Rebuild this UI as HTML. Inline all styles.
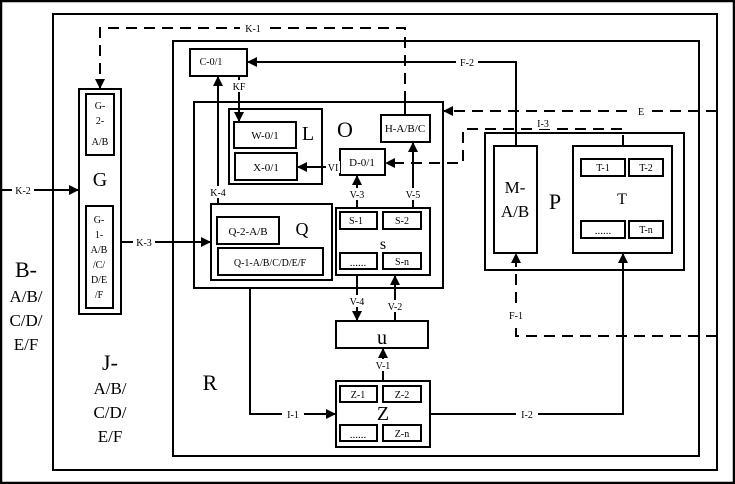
<!DOCTYPE html>
<html><head><meta charset="utf-8"><style>
html,body{margin:0;padding:0;background:#fff}
svg{display:block}
text{font-family:"Liberation Serif","Noto Serif CJK SC",serif;fill:#000}
.s{font-size:10px;fill:#555}
.m{font-size:11px}
</style></head><body>
<svg width="735" height="484" viewBox="0 0 735 484" xmlns="http://www.w3.org/2000/svg">
<defs>
<marker id="a" markerWidth="10" markerHeight="10" refX="9" refY="5" orient="auto" markerUnits="userSpaceOnUse"><path d="M0,0 L10,5 L0,10 z" fill="#000"/></marker>
</defs>
<g fill="none" stroke="#000" stroke-width="2">
<rect x="1" y="1" width="733" height="482" stroke-width="2.5"/>
<rect x="53" y="14" width="664" height="456"/>
<rect x="173" y="41" width="526" height="415"/>
<rect x="194" y="102" width="249" height="186"/>
<rect x="190" y="49" width="57" height="27"/>
<rect x="229" y="109" width="93" height="75"/>
<rect x="234" y="122" width="62" height="26"/>
<rect x="235" y="153" width="62" height="27"/>
<rect x="340" y="149" width="45" height="26"/>
<rect x="381" y="115" width="49" height="27"/>
<rect x="336" y="208" width="94" height="67"/>
<rect x="340" y="212" width="37" height="17"/>
<rect x="383" y="212" width="38" height="17"/>
<rect x="340" y="253" width="37" height="16"/>
<rect x="383" y="253" width="38" height="16"/>
<rect x="211" y="204" width="121" height="76"/>
<rect x="217" y="217" width="62" height="27"/>
<rect x="218" y="248" width="105" height="27"/>
<rect x="336" y="321" width="92" height="27"/>
<rect x="336" y="381" width="94" height="66"/>
<rect x="340" y="386" width="37" height="16"/>
<rect x="383" y="386" width="38" height="16"/>
<rect x="340" y="425" width="37" height="16"/>
<rect x="383" y="425" width="38" height="16"/>
<rect x="485" y="133" width="199" height="137"/>
<rect x="494" y="146" width="43" height="107"/>
<rect x="573" y="146" width="99" height="107"/>
<rect x="581" y="159" width="44" height="17"/>
<rect x="629" y="159" width="34" height="17"/>
<rect x="581" y="221" width="44" height="17"/>
<rect x="629" y="221" width="34" height="17"/>
<rect x="79" y="89" width="42" height="225"/>
<rect x="86" y="94" width="28" height="61"/>
<rect x="86" y="206" width="27" height="102"/>
</g>
<g fill="none" stroke="#000" stroke-width="2">
<!-- solid connectors -->
<path d="M0,190 H78" marker-end="url(#a)"/>
<path d="M121,242 H210" marker-end="url(#a)"/>
<path d="M218,204 V77" marker-end="url(#a)"/>
<path d="M239,76 V121" marker-end="url(#a)"/>
<path d="M340,167 H298" marker-end="url(#a)"/>
<path d="M357,208 V176" marker-end="url(#a)"/>
<path d="M413,208 V143" marker-end="url(#a)"/>
<path d="M357,275 V320" marker-end="url(#a)"/>
<path d="M395,321 V276" marker-end="url(#a)"/>
<path d="M383,381 V349" marker-end="url(#a)"/>
<path d="M250,288 V414 H335" marker-end="url(#a)"/>
<path d="M430,414 H623 V254" marker-end="url(#a)"/>
<path d="M516,146 V62 H248" marker-end="url(#a)"/>
<path d="M405,102 V115"/>
</g>
<g fill="none" stroke="#000" stroke-width="2" stroke-dasharray="11,7">
<path d="M405,102 V28 H100 V88" marker-end="url(#a)"/>
<path d="M717,111 H444" marker-end="url(#a)"/>
<path d="M623,146 V129 H463 V163 H386" marker-end="url(#a)"/>
<path d="M717,336 H516 V254" marker-end="url(#a)"/>
</g>
<!-- label backgrounds -->
<g fill="#fff">
<rect x="240" y="22" width="26" height="12"/>
<rect x="456" y="56" width="22" height="12"/>
<rect x="532" y="117" width="22" height="12"/>
<rect x="634" y="105" width="14" height="12"/>
<rect x="12" y="184" width="22" height="12"/>
<rect x="133" y="236" width="22" height="12"/>
<rect x="231" y="80" width="16" height="12"/>
<rect x="208" y="186" width="20" height="12"/>
<rect x="326" y="161" width="14" height="12"/>
<rect x="346" y="188" width="22" height="12"/>
<rect x="402" y="188" width="22" height="12"/>
<rect x="346" y="295" width="22" height="12"/>
<rect x="384" y="300" width="22" height="12"/>
<rect x="372" y="359" width="22" height="12"/>
<rect x="282" y="408" width="22" height="12"/>
<rect x="516" y="408" width="22" height="12"/>
<rect x="506" y="309" width="20" height="12"/>
</g>
<g class="s" text-anchor="middle">
<text x="253" y="32">K-1</text>
<text x="467" y="66">F-2</text>
<text x="543" y="127">I-3</text>
<text x="641" y="115">E</text>
<text x="23" y="194">K-2</text>
<text x="144" y="246">K-3</text>
<text x="239" y="90">KF</text>
<text x="218" y="196">K-4</text>
<text x="333" y="171">VI</text>
<text x="357" y="198">V-3</text>
<text x="413" y="198">V-5</text>
<text x="357" y="305">V-4</text>
<text x="395" y="310">V-2</text>
<text x="383" y="369">V-1</text>
<text x="293" y="418">I-1</text>
<text x="527" y="418">I-2</text>
<text x="516" y="319">F-1</text>
<text x="211" y="65">C-0/1</text>
<text x="356" y="216" transform="translate(0,8)" style="font-size:10px">S-1</text>
<text x="402" y="224">S-2</text>
<text x="402" y="265">S-n</text>
<text x="358" y="398">Z-1</text>
<text x="402" y="398">Z-2</text>
<text x="402" y="437">Z-n</text>
<text x="603" y="171">T-1</text>
<text x="646" y="171">T-2</text>
<text x="646" y="233">T-n</text>
</g>
<g class="m" text-anchor="middle">
<text x="265" y="139">W-0/1</text>
<text x="266" y="171">X-0/1</text>
<text x="362" y="166">D-0/1</text>
<text x="405" y="132">H-A/B/C</text>
<text x="248" y="235">Q-2-A/B</text>
<text x="270" y="266" style="font-size:10px">Q-1-A/B/C/D/E/F</text>
<text x="358" y="266">......</text>
<text x="358" y="438">......</text>
<text x="603" y="234">......</text>
<text x="100" y="109" style="font-size:10px">G-</text>
<text x="100" y="124" style="font-size:10px">2-</text>
<text x="100" y="145" style="font-size:10px">A/B</text>
<text x="99" y="223" style="font-size:10px">G-</text>
<text x="99" y="238" style="font-size:10px">1-</text>
<text x="99" y="253" style="font-size:10px">A/B</text>
<text x="99" y="268" style="font-size:10px">/C/</text>
<text x="99" y="283" style="font-size:10px">D/E</text>
<text x="99" y="298" style="font-size:10px">/F</text>
</g>
<g text-anchor="middle">
<text x="308" y="140" style="font-size:20px">L</text>
<text x="345" y="137" style="font-size:22px">O</text>
<text x="302" y="235" style="font-size:18px">Q</text>
<text x="383" y="249" style="font-size:16px">s</text>
<text x="382" y="344" style="font-size:20px">u</text>
<text x="383" y="420" style="font-size:20px">Z</text>
<text x="622" y="204" style="font-size:16px">T</text>
<text x="555" y="209" style="font-size:22px">P</text>
<text x="515" y="193" style="font-size:17px">M-</text>
<text x="515" y="217" style="font-size:17px">A/B</text>
<text x="100" y="186" style="font-size:20px">G</text>
<text x="210" y="390" style="font-size:22px">R</text>
<text x="26" y="277" style="font-size:22px">B-</text>
<text x="26" y="302" style="font-size:17px">A/B/</text>
<text x="26" y="326" style="font-size:17px">C/D/</text>
<text x="26" y="350" style="font-size:17px">E/F</text>
<text x="110" y="370" style="font-size:22px">J-</text>
<text x="110" y="394" style="font-size:17px">A/B/</text>
<text x="110" y="418" style="font-size:17px">C/D/</text>
<text x="110" y="442" style="font-size:17px">E/F</text>
</g>
</svg>
</body></html>
